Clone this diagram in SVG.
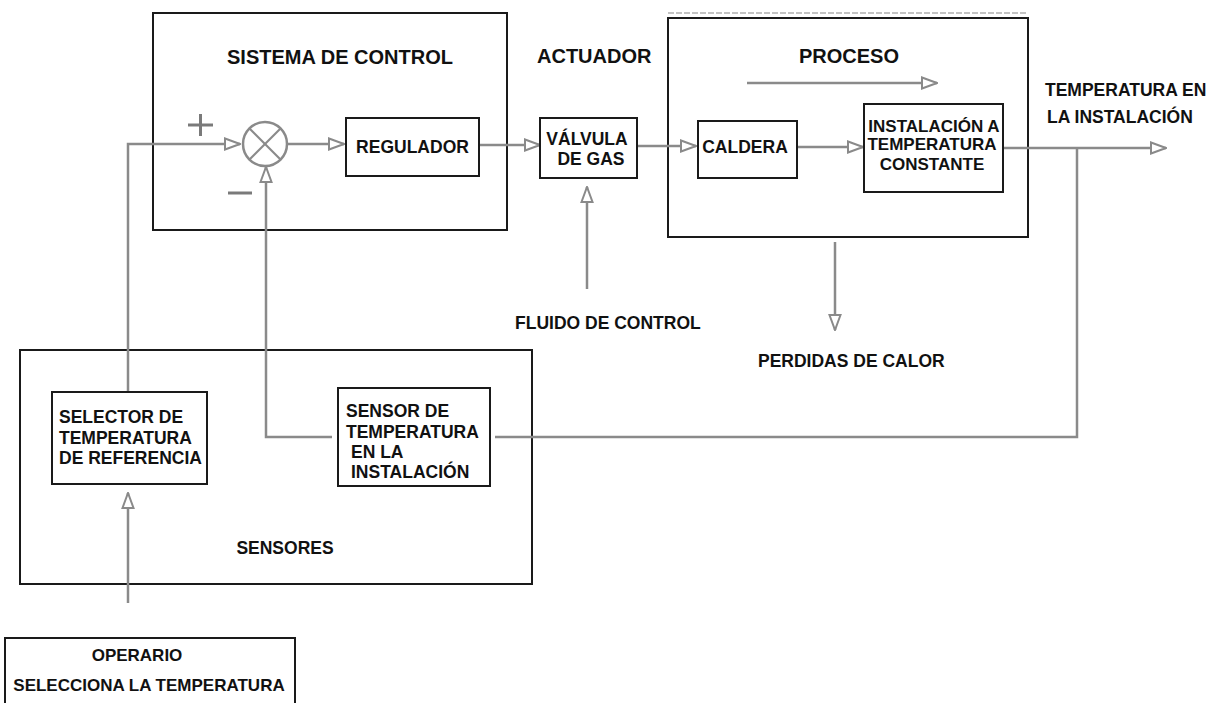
<svg xmlns="http://www.w3.org/2000/svg" width="1217" height="703" viewBox="0 0 1217 703">
<style>
.box{fill:none;stroke:#1a1a1a;stroke-width:2}
.nb{fill:#fff;stroke:#1a1a1a;stroke-width:2}
.t{font-family:"Liberation Sans",Arial,sans-serif;font-weight:bold;font-size:17.5px;fill:#111}
.h{font-size:20px}
.s{font-size:17px}
.c{fill:none;stroke:#8a8a8a;stroke-width:2.5}
.sg{stroke:#7a7a7a;stroke-width:3;fill:none}
</style>
<defs>
<marker id="ah" viewBox="0 0 17 14" refX="16" refY="7" markerWidth="17" markerHeight="14" markerUnits="userSpaceOnUse" orient="auto">
<path d="M1,1.5 L16,7 L1,12.5 Z" fill="#fff" stroke="#8a8a8a" stroke-width="2"/>
</marker>
</defs>
<rect width="1217" height="703" fill="#fff"/>

<g id="sistema-control">
<rect class="box" x="153" y="13" width="354" height="217"/>
<text class="t h" x="340" y="64" text-anchor="middle">SISTEMA DE CONTROL</text>
</g>

<g id="actuador-label">
<text class="t h" x="537" y="63">ACTUADOR</text>
</g>

<g id="proceso">
<line x1="668" y1="13" x2="1028" y2="13" stroke="#b0b0b0" stroke-width="1.5" stroke-dasharray="6 2"/>
<rect class="box" x="668" y="18" width="360" height="219"/>
<text class="t h" x="849" y="63" text-anchor="middle">PROCESO</text>
</g>

<g id="sensores">
<rect class="box" x="20" y="350" width="512" height="234"/>
<text class="t" x="285" y="554" text-anchor="middle">SENSORES</text>
</g>

<g id="connectors">
<polyline class="c" points="128,392 128,144 240,144" marker-end="url(#ah)"/>
<line class="c" x1="288" y1="144" x2="344" y2="144" marker-end="url(#ah)"/>
<line class="c" x1="479" y1="145" x2="540" y2="145" marker-end="url(#ah)"/>
<line class="c" x1="637" y1="146" x2="696" y2="146" marker-end="url(#ah)"/>
<line class="c" x1="797" y1="147" x2="863" y2="147" marker-end="url(#ah)"/>
<line class="c" x1="1004" y1="148" x2="1166" y2="148" marker-end="url(#ah)"/>
<polyline class="c" points="1077,148 1077,437 495,437"/>
<polyline class="c" points="332,437 266,437 266,167" marker-end="url(#ah)"/>
<line class="c" x1="587" y1="289" x2="587" y2="187" marker-end="url(#ah)"/>
<line class="c" x1="835" y1="242" x2="835" y2="330" marker-end="url(#ah)"/>
<line class="c" x1="747" y1="83" x2="937" y2="83" marker-end="url(#ah)"/>
<line class="c" x1="128" y1="603" x2="128" y2="493" marker-end="url(#ah)"/>
</g>

<g id="sumador">
<circle cx="265" cy="144" r="22" fill="#fff" stroke="#8a8a8a" stroke-width="2.5"/>
<line x1="249.5" y1="128.5" x2="280.5" y2="159.5" stroke="#8a8a8a" stroke-width="2.2"/>
<line x1="280.5" y1="128.5" x2="249.5" y2="159.5" stroke="#8a8a8a" stroke-width="2.2"/>
<line class="sg" x1="188" y1="125" x2="213" y2="125"/>
<line class="sg" x1="200.5" y1="114" x2="200.5" y2="136"/>
<line class="sg" x1="228" y1="193" x2="252" y2="193"/>
</g>

<g id="regulador">
<rect class="nb" x="346" y="118" width="133" height="58"/>
<text class="t" x="412.5" y="153" text-anchor="middle">REGULADOR</text>
</g>

<g id="valvula">
<rect class="nb" x="540" y="118" width="97" height="60"/>
<text class="t" x="587" y="145" text-anchor="middle">VÁLVULA</text>
<text class="t" x="591" y="165" text-anchor="middle">DE GAS</text>
</g>

<g id="caldera">
<rect class="nb" x="698" y="121" width="99" height="57"/>
<text class="t" x="745" y="153" text-anchor="middle">CALDERA</text>
</g>

<g id="instalacion">
<rect class="nb" x="864" y="104" width="139" height="88"/>
<text class="t s" x="934" y="132" text-anchor="middle">INSTALACIÓN A</text>
<text class="t s" x="932" y="150" text-anchor="middle">TEMPERATURA</text>
<text class="t s" x="932" y="170" text-anchor="middle">CONSTANTE</text>
</g>

<g id="salida-label">
<text class="t" x="1045" y="96">TEMPERATURA EN</text>
<text class="t" x="1047" y="123">LA INSTALACIÓN</text>
</g>

<g id="fluido-label">
<text class="t" x="515" y="329">FLUIDO DE CONTROL</text>
</g>

<g id="perdidas-label">
<text class="t" x="758" y="367">PERDIDAS DE CALOR</text>
</g>

<g id="selector">
<rect class="nb" x="52" y="392" width="155" height="92"/>
<text class="t" x="59" y="423">SELECTOR DE</text>
<text class="t" x="59" y="444">TEMPERATURA</text>
<text class="t" x="59" y="464">DE REFERENCIA</text>
</g>

<g id="sensor-temp">
<rect class="nb" x="338" y="388" width="152" height="98"/>
<text class="t" x="346" y="417">SENSOR DE</text>
<text class="t" x="346" y="438">TEMPERATURA</text>
<text class="t" x="351" y="458">EN LA</text>
<text class="t" x="351" y="478">INSTALACIÓN</text>
</g>

<g id="operario">
<rect class="nb" x="5" y="638" width="290" height="80"/>
<text class="t s" x="137" y="661" text-anchor="middle">OPERARIO</text>
<text class="t s" x="149" y="691" text-anchor="middle">SELECCIONA LA TEMPERATURA</text>
</g>
</svg>
